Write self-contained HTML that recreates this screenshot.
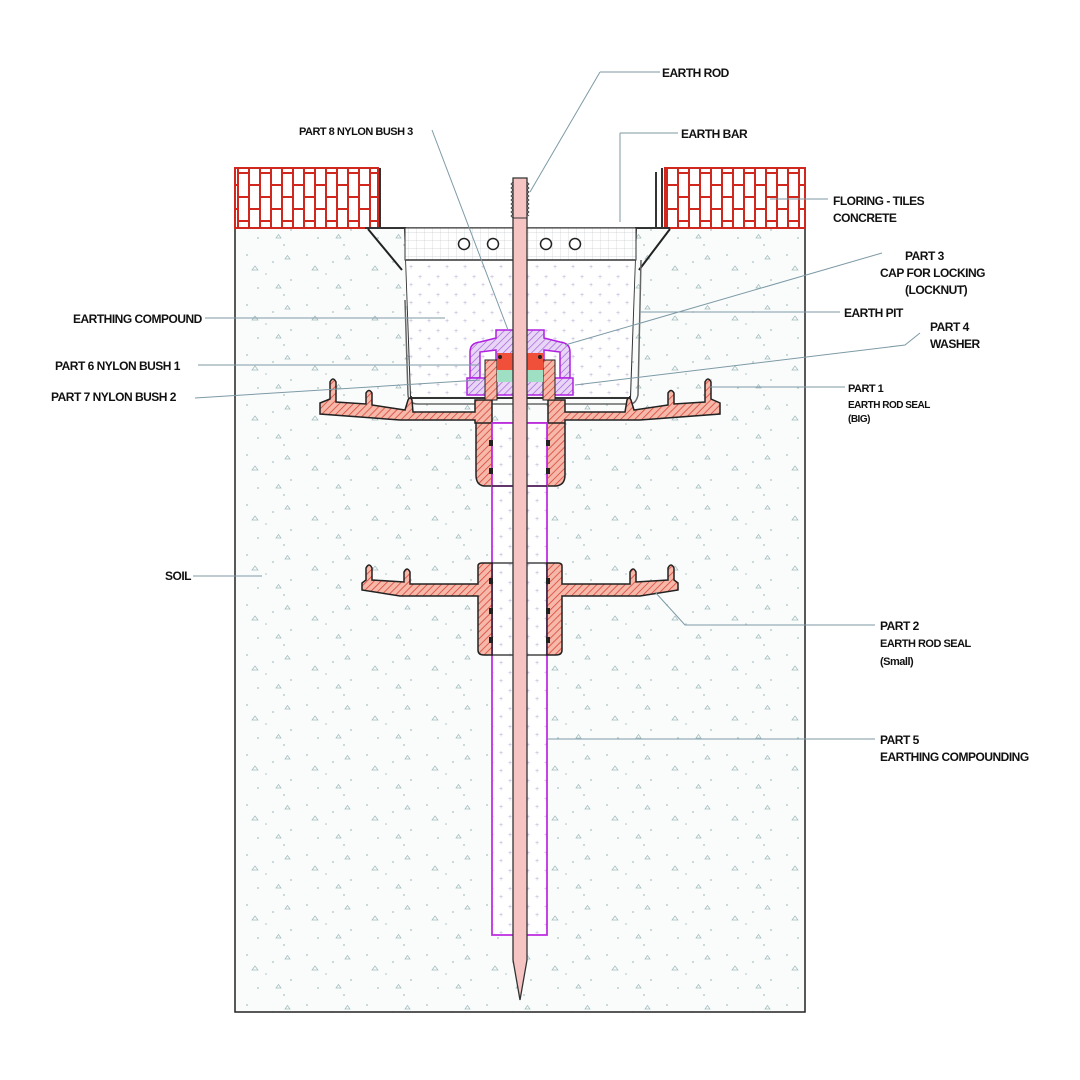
<!DOCTYPE html>
<html><head><meta charset="utf-8"><style>
html,body{margin:0;padding:0;background:#fff}
svg{display:block}
text{font-family:"Liberation Sans",sans-serif;font-size:12px;letter-spacing:-0.5px;fill:#111;font-weight:bold}
</style></head><body>
<svg width="1080" height="1080" viewBox="0 0 1080 1080" xmlns="http://www.w3.org/2000/svg">
<defs>
<pattern id="hatch" width="5" height="5" patternUnits="userSpaceOnUse" patternTransform="rotate(45)">
<rect width="5" height="5" fill="#f6b8a8"/><line x1="0" y1="0" x2="0" y2="5" stroke="#d8453a" stroke-width="1.6"/></pattern>
<pattern id="phatch" width="5" height="5" patternUnits="userSpaceOnUse" patternTransform="rotate(45)">
<rect width="5" height="5" fill="#e9d6f7"/><line x1="0" y1="0" x2="0" y2="5" stroke="#a060d8" stroke-width="1.4"/></pattern>
<pattern id="brick" x="237" y="172" width="22" height="24" patternUnits="userSpaceOnUse">
<rect width="22" height="24" fill="#fff"/>
<path d="M1 0V24M12 0V24M1 1H12M12 13H22M0 13H1" stroke="#d0281e" stroke-width="2"/></pattern>
<pattern id="mesh" width="8" height="8" patternUnits="userSpaceOnUse">
<rect width="8" height="8" fill="#fff"/><path d="M0 0H8M0 0V8" stroke="#c9ced3" stroke-width="0.7"/></pattern>
<pattern id="dots" width="18" height="18" patternUnits="userSpaceOnUse">
<rect width="18" height="18" fill="#fff"/><text x="4" y="9" style="font-size:7px;fill:#b9b2dc;font-weight:normal;letter-spacing:0">+</text><text x="13" y="17" style="font-size:7px;fill:#b9b2dc;font-weight:normal;letter-spacing:0">+</text></pattern>
<pattern id="soil" width="60" height="50" patternUnits="userSpaceOnUse">
<rect width="60" height="50" fill="#fafcfc"/>
<g fill="#a9c3c3"><circle cx="7" cy="5" r="0.9"/><circle cx="33" cy="12" r="0.9"/><circle cx="51" cy="30" r="0.9"/><circle cx="18" cy="38" r="0.9"/><circle cx="44" cy="45" r="0.9"/><circle cx="26" cy="24" r="0.8"/></g>
<g fill="none" stroke="#9fbaba" stroke-width="0.7"><path d="M12 20l3-4 3 4z"/><path d="M45 9l2.5-3.5 2.5 3.5z"/><path d="M36 38l2.5-3.5 2.5 3.5z"/></g></pattern>
</defs>

<rect x="235" y="228" width="570" height="784" fill="url(#soil)" stroke="#222" stroke-width="1.5"/>
<rect x="235" y="168" width="143" height="60" fill="url(#brick)" stroke="#d0281e" stroke-width="2"/>
<rect x="665" y="168" width="140" height="60" fill="url(#brick)" stroke="#d0281e" stroke-width="2"/>
<line x1="380" y1="168" x2="380" y2="228" stroke="#333" stroke-width="2"/>
<line x1="656" y1="172" x2="656" y2="228" stroke="#333" stroke-width="2"/>
<line x1="662" y1="168" x2="662" y2="228" stroke="#333" stroke-width="2"/>

<path d="M365 228H405L411 398H630L636 228H670" fill="none" stroke="#333" stroke-width="2"/>
<rect x="405" y="228" width="231" height="32" fill="url(#mesh)" stroke="#333" stroke-width="1"/>
<path d="M406 260H635L630 396H411Z" fill="url(#dots)"/>
<line x1="406" y1="260" x2="635" y2="260" stroke="#333" stroke-width="1.5"/>
<g fill="#fff" stroke="#222" stroke-width="1.5"><circle cx="464" cy="244" r="5.5"/><circle cx="493" cy="244" r="5.5"/><circle cx="546" cy="244" r="5.5"/><circle cx="575" cy="244" r="5.5"/></g>
<path d="M368 229L402 270M670 229L639 270" stroke="#222" stroke-width="2"/>
<path d="M405 300 L408 395 Q409 404 418 404 H630 Q636 404 638 395 L641 260" fill="none" stroke="#666" stroke-width="1.5"/>

<rect x="492" y="423" width="55" height="512" fill="url(#dots)" stroke="#c030e0" stroke-width="1.8"/>

<path d="M320 403 L330 399 L330 382 Q333 376 336 382 L336 402 L366 404 L366 393 Q369 388 372 393 L372 405 L405 410 L408 400 Q410 396 412 400 L413 412 H475 V400 H492 V423 H476 V475 Q476 485 484 486 H492 V423 H547 V486 H556 Q565 485 565 475 V423 H548 V400 H565 V412 H625 L627 400 Q629 396 631 400 L634 410 L668 405 L668 393 Q671 388 674 393 L674 404 L705 402 L705 382 Q708 376 711 382 L711 399 L720 403 L720 414 L640 420 H565 V423 H475 V420 H400 L320 414 Z" fill="url(#hatch)" stroke="#222" stroke-width="1.5"/>
<rect x="492" y="423" width="55" height="63" fill="url(#dots)" stroke="#c030e0" stroke-width="1.8"/>
<line x1="492" y1="486" x2="547" y2="486" stroke="#222" stroke-width="1.2"/>

<path d="M362 583 L366 580 V568 Q369 562 372 568 V580 L404 582 V572 Q407 566 410 572 V584 H478 V566 Q478 563 482 563 H492 V655 H484 Q478 655 478 650 V596 H400 L362 590 Z" fill="url(#hatch)" stroke="#222" stroke-width="1.5"/>
<path d="M678 583 L674 580 V568 Q671 562 668 568 V580 L636 582 V572 Q633 566 630 572 V584 H562 V566 Q562 563 558 563 H547 V655 H556 Q562 655 562 650 V596 H640 L678 590 Z" fill="url(#hatch)" stroke="#222" stroke-width="1.5"/>
<line x1="492" y1="563" x2="547" y2="563" stroke="#222" stroke-width="1.2"/>
<line x1="492" y1="655" x2="547" y2="655" stroke="#222" stroke-width="1.2"/>
<g fill="#222"><rect x="489" y="578" width="4" height="6"/><rect x="489" y="608" width="4" height="6"/><rect x="489" y="637" width="4" height="6"/><rect x="546" y="578" width="4" height="6"/><rect x="546" y="608" width="4" height="6"/><rect x="546" y="637" width="4" height="6"/>
<rect x="489" y="440" width="4" height="6"/><rect x="489" y="468" width="4" height="6"/><rect x="546" y="440" width="4" height="6"/><rect x="546" y="468" width="4" height="6"/></g>

<path d="M470 378 V352 Q470 343 480 342 L496 338 V330 H544 V338 L560 342 Q570 343 570 352 V378 H560 V352 L544 350 V362 H496 V350 L480 352 V378 Z" fill="url(#phatch)" stroke="#b020e0" stroke-width="1.5"/>
<rect x="467" y="378" width="106" height="17" fill="url(#phatch)" stroke="#b020e0" stroke-width="1.5"/>
<rect x="485" y="360" width="12" height="40" fill="url(#hatch)" stroke="#222" stroke-width="1"/>
<rect x="543" y="360" width="12" height="40" fill="url(#hatch)" stroke="#222" stroke-width="1"/>
<rect x="497" y="353" width="16" height="17" fill="#f0503a"/><rect x="527" y="353" width="16" height="17" fill="#f0503a"/>
<rect x="497" y="370" width="16" height="12" fill="#9fe0c4"/><rect x="527" y="370" width="16" height="12" fill="#9fe0c4"/>
<circle cx="500" cy="357" r="2" fill="#222"/><circle cx="540" cy="357" r="2" fill="#222"/>

<path d="M513 178 H527 V960 L520 1000 L513 960 Z" fill="#f7c4c4" stroke="#333" stroke-width="1.3"/>
<path d="M513 182 l-2 2 2 2 -2 2 2 2 -2 2 2 2 -2 2 2 2 -2 2 2 2 -2 2 2 2 -2 2 2 2 -2 2 2 2 -2 2 2 2 M527 182 l2 2 -2 2 2 2 -2 2 2 2 -2 2 2 2 -2 2 2 2 -2 2 2 2 -2 2 2 2 -2 2 2 2 -2 2 2 2" fill="none" stroke="#333" stroke-width="0.8"/>
<line x1="513" y1="218" x2="527" y2="218" stroke="#333"/>

<g stroke="#7d9aa6" stroke-width="1" fill="none">
<path d="M600 72 H660 M600 72 L530 192"/>
<path d="M620 133 H678 M620 133 V222"/>
<path d="M432 130 L508 330"/>
<path d="M770 199 H828"/>
<path d="M882 253 L565 345"/>
<path d="M640 312 H840"/>
<path d="M920 333 L905 345 L575 385"/>
<path d="M710 387 H845"/>
<path d="M205 318 H445"/>
<path d="M198 365 H480"/>
<path d="M195 398 L480 380"/>
<path d="M193 576 H262"/>
<path d="M655 592 L685 625 H875"/>
<path d="M548 739 H875"/>
</g>

<text x="662" y="77">EARTH ROD</text>
<text x="299" y="135" style="font-size:11px">PART 8 NYLON BUSH 3</text>
<text x="681" y="138">EARTH BAR</text>
<text x="833" y="205">FLORING - TILES</text>
<text x="833" y="222">CONCRETE</text>
<text x="905" y="260">PART 3</text>
<text x="880" y="277">CAP FOR LOCKING</text>
<text x="905" y="294">(LOCKNUT)</text>
<text x="844" y="317">EARTH PIT</text>
<text x="930" y="331">PART 4</text>
<text x="930" y="348">WASHER</text>
<text x="848" y="392" style="font-size:11px">PART 1</text>
<text x="848" y="408" style="font-size:10px">EARTH ROD SEAL</text>
<text x="848" y="422" style="font-size:10px">(BIG)</text>
<text x="73" y="323">EARTHING COMPOUND</text>
<text x="55" y="370">PART  6 NYLON BUSH 1</text>
<text x="51" y="401">PART  7 NYLON BUSH 2</text>
<text x="165" y="580">SOIL</text>
<text x="880" y="630">PART 2</text>
<text x="880" y="647" style="font-size:11px">EARTH ROD SEAL</text>
<text x="880" y="665" style="font-size:11px">(Small)</text>
<text x="880" y="744">PART 5</text>
<text x="880" y="761">EARTHING COMPOUNDING</text>
</svg>
</body></html>
